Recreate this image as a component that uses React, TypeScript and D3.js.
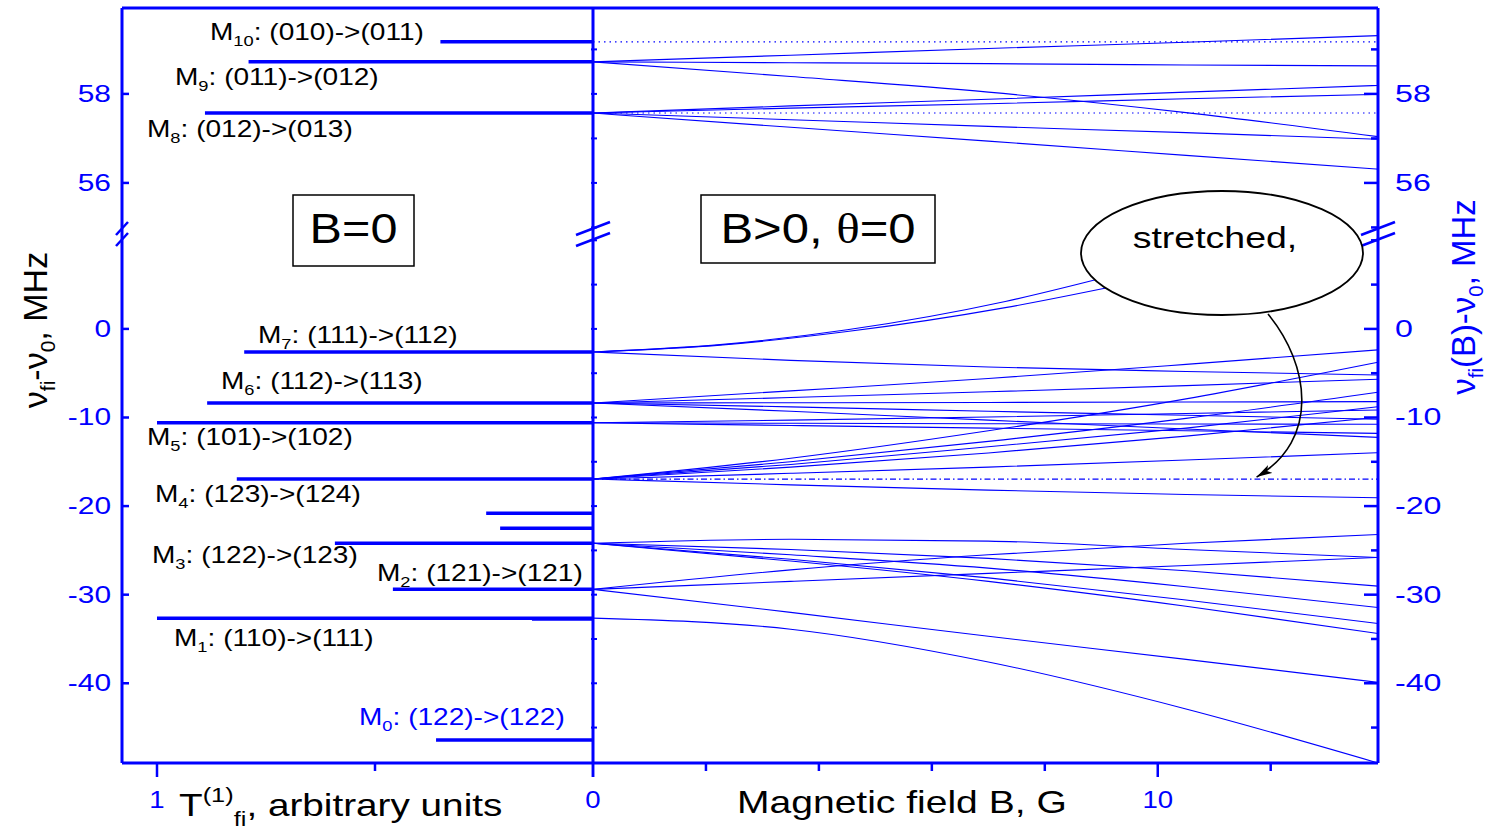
import * as d3 from 'd3';

// ---------- data ----------
const bField = [0, 3.5, 7, 10.5, 13.9];
const bFieldShort = [0, 2.3, 4.5, 7.3, 9.3];

// zero-field transitions (left panel)
const lineNames = ['10', '9', '8', '7', '6', '5', '4', '', '', '3', '2', '1', '', '0'];
const lineCodes = [
  '(010)->(011)', '(011)->(012)', '(012)->(013)', '(111)->(112)', '(112)->(113)',
  '(101)->(102)', '(123)->(124)', '', '', '(122)->(123)', '(121)->(121)', '(110)->(111)', '', '(122)->(122)',
];
const zeroFieldFreq = [59.17, 58.72, 57.57, -2.6, -8.36, -10.6, -16.95, -20.8, -22.5, -24.2, -29.4, -32.65, -32.75, -46.4];
const zeroFieldT = [0.35, 0.79, 0.89, 0.8, 0.885, 1.0, 0.817, 0.245, 0.213, 0.592, 0.459, 1.0, 0.14, 0.36];

// Zeeman branches, upper band, sampled at bField
const upperBranches = [
  [58.72, 58.87, 59.02, 59.16, 59.31],
  [58.72, 58.7, 58.68, 58.65, 58.63],
  [58.72, 58.39, 58.04, 57.58, 57.04],
  [57.57, 57.73, 57.88, 58.04, 58.19],
  [57.57, 57.68, 57.78, 57.89, 57.99],
  [57.57, 57.42, 57.27, 57.13, 56.98],
  [57.57, 57.25, 56.94, 56.62, 56.31],
];

// Zeeman branches, lower band, sampled at bField
const lowerBranches = [
  [-2.6, -3.55, -4.3, -4.8, -5.2],
  [-8.36, -7.0, -5.6, -4.0, -2.37],
  [-8.36, -7.75, -7.1, -6.4, -5.68],
  [-8.36, -8.33, -8.3, -8.25, -8.21],
  [-8.36, -8.8, -9.3, -9.75, -10.2],
  [-8.36, -9.3, -10.3, -11.3, -12.24],
  [-10.6, -10.3, -9.95, -9.55, -9.15],
  [-10.6, -10.65, -10.7, -10.74, -10.77],
  [-10.6, -10.9, -11.2, -11.5, -11.79],
  [-16.95, -14.6, -11.5, -7.9, -3.76],
  [-16.95, -15.0, -12.7, -10.1, -7.15],
  [-16.95, -15.3, -13.3, -11.2, -8.78],
  [-16.95, -15.6, -14.0, -12.1, -9.98],
  [-16.95, -16.3, -15.6, -14.8, -13.98],
  [-16.95, -17.6, -18.2, -18.7, -19.06],
  [-24.2, -23.75, -23.95, -24.9, -25.8],
  [-24.2, -24.9, -25.9, -27.3, -29.04],
  [-24.2, -25.5, -27.0, -29.1, -31.45],
  [-24.2, -26.0, -28.1, -30.6, -33.25],
  [-24.2, -26.2, -28.5, -31.3, -34.38],
  [-29.4, -28.5, -27.6, -26.7, -25.8],
  [-29.4, -27.2, -25.5, -24.2, -23.2],
  [-29.4, -32.0, -34.7, -37.3, -39.9],
  [-32.65, -33.9, -37.6, -42.9, -49.0],
];

// the two M7 branches that run up under the ellipse, sampled at bFieldShort
const curvedBranches = [
  [-2.6, -1.75, -0.1, 3.1, 6.2],
  [-2.6, -1.8, -0.3, 2.4, 4.9],
];

const dottedFreqs = [59.17, 57.57];
const stretchedFreq = -16.95;

const upperTicks = [56, 58];
const upperMinor = [55, 57, 59];
const lowerTicks = [-40, -30, -20, -10, 0];
const lowerMinor = [-45, -35, -25, -15, -5, 5, 10];
const tTicks = [1, 0.5, 0];
const tTickLabels = ['1', '', '0'];
const bTicks = [0, 2, 4, 6, 8, 10, 12];
const bTickLabels = ['', '', '', '', '', '10', ''];

// ---------- layout ----------
const W = 1496;
const H = 830;
const left = 122;
const mid = 593;
const right = 1378;
const top = 8;
const bottom = 763;
const breakY = 235;
const BLUE = '#0000ff';
const FONT = '"Liberation Sans", Arial, sans-serif';

const xT = d3.scaleLinear().domain([1, 0]).range([157, mid]);
const xB = d3.scaleLinear().domain([0, 13.9]).range([mid, right]);
const yUp = d3.scaleLinear().domain([54.83, 59.93]).range([breakY, top]);
const yLo = d3.scaleLinear().domain([-49, 10.6]).range([bottom, breakY]);
const yAny = (v: number) => (v > 30 ? yUp(v) : yLo(v));

// label placement for the zero-field lines (x, baseline offset from bar)
const labelX = [210, 175, 147, 258, 221, 147, 155, 0, 0, 152, 377, 174, 0, 359];
const labelDy = [-1.5, 23, 24, -9, -14, 22, 23, 0, 0, 20, -8, 28, 0, -15];

function branchPath(bs: number[], vs: number[], y: (v: number) => number) {
  const line = d3
    .line<number>()
    .x((_, i) => xB(bs[i]))
    .y((v) => y(v))
    .curve(d3.curveMonotoneX);
  return line(vs) ?? '';
}

function SText({ x, y, size, sx = 1.2, fill = '#000', anchor = 'start', rotate = 0, family = FONT, children }: any) {
  return (
    <text
      transform={`translate(${x},${y}) rotate(${rotate}) scale(${sx},1)`}
      fontSize={size}
      fill={fill}
      textAnchor={anchor}
      fontFamily={family}
    >
      {children}
    </text>
  );
}

function BreakMark({ x, y, w }: { x: number; y: number; w: number }) {
  return (
    <g stroke={BLUE} strokeWidth={2.5}>
      <line x1={x - w} y1={y + 5} x2={x + w} y2={y - 8} />
      <line x1={x - w} y1={y + 16} x2={x + w} y2={y + 3} />
    </g>
  );
}

export default function App() {
  const flat = (v: number) => [v, v];
  const ends = [0, 13.9];

  return (
    <svg
      width={W}
      height={H}
      style={{ position: 'absolute', left: 0, top: 0, background: '#fff', display: 'block' }}
      fontFamily={FONT}
    >
      <defs>
        <clipPath id="clipUp">
          <rect x={mid} y={top} width={right - mid} height={breakY - top} />
        </clipPath>
        <clipPath id="clipLo">
          <rect x={mid} y={breakY} width={right - mid} height={bottom - breakY} />
        </clipPath>
        <marker id="arrowHead" viewBox="0 0 16 9" refX="16" refY="4.5" markerWidth="16" markerHeight="9" orient="auto" markerUnits="userSpaceOnUse">
          <path d="M0,0 L16,4.5 L0,9 L4,4.5 z" fill="#000" />
        </marker>
      </defs>

      {/* B > 0 branches */}
      <g clipPath="url(#clipUp)" fill="none" stroke={BLUE} strokeWidth={1.1}>
        {upperBranches.map((vs, i) => (
          <path key={i} d={branchPath(bField, vs, yUp)} />
        ))}
        {dottedFreqs.map((f) => (
          <path key={f} d={branchPath(ends, flat(f), yUp)} strokeDasharray="1.5 4" />
        ))}
      </g>
      <g clipPath="url(#clipLo)" fill="none" stroke={BLUE} strokeWidth={1.1}>
        {lowerBranches.map((vs, i) => (
          <path key={i} d={branchPath(bField, vs, yLo)} />
        ))}
        {curvedBranches.map((vs, i) => (
          <path key={'c' + i} d={branchPath(bFieldShort, vs, yLo)} />
        ))}
        <path d={branchPath(ends, flat(stretchedFreq), yLo)} strokeDasharray="6 3 1.5 3" strokeWidth={1.3} />
      </g>

      {/* zero-field bars */}
      <g stroke={BLUE} strokeWidth={3.5}>
        {zeroFieldFreq.map((f, i) => (
          <line key={i} x1={xT(zeroFieldT[i])} x2={mid} y1={yAny(f)} y2={yAny(f)} />
        ))}
      </g>

      {/* zero-field labels */}
      {lineNames.map((n, i) =>
        n === '' ? null : (
          <SText key={i} x={labelX[i]} y={yAny(zeroFieldFreq[i]) + labelDy[i]} size={23} sx={1.22} fill={n === '0' ? BLUE : '#000'}>
            <tspan>M</tspan>
            <tspan fontSize={15} dy={6}>{n}</tspan>
            <tspan dy={-6}>{': ' + lineCodes[i]}</tspan>
          </SText>
        )
      )}

      {/* frame and axes */}
      <g stroke={BLUE} strokeWidth={3} fill="none">
        <line x1={left} x2={right} y1={top} y2={top} />
        <line x1={left} x2={right} y1={bottom} y2={bottom} />
        <line x1={left} x2={left} y1={top} y2={bottom} />
        <line x1={mid} x2={mid} y1={top} y2={bottom} />
        <line x1={right} x2={right} y1={top} y2={bottom} />
      </g>

      {/* ticks */}
      <g stroke={BLUE} strokeWidth={2.5}>
        {upperTicks.map((t) => (
          <line key={'lu' + t} x1={left} x2={left + 7} y1={yUp(t)} y2={yUp(t)} />
        ))}
        {lowerTicks.map((t) => (
          <line key={'ll' + t} x1={left} x2={left + 7} y1={yLo(t)} y2={yLo(t)} />
        ))}
        {upperTicks.map((t) => (
          <line key={'ru' + t} x1={right - 14} x2={right} y1={yUp(t)} y2={yUp(t)} />
        ))}
        {lowerTicks.map((t) => (
          <line key={'rl' + t} x1={right - 14} x2={right} y1={yLo(t)} y2={yLo(t)} />
        ))}
        {upperMinor.map((t) => (
          <line key={'rum' + t} x1={right - 7} x2={right} y1={yUp(t)} y2={yUp(t)} />
        ))}
        {lowerMinor.map((t) => (
          <line key={'rlm' + t} x1={right - 7} x2={right} y1={yLo(t)} y2={yLo(t)} />
        ))}
        {[...upperTicks, ...upperMinor].map((t) => (
          <line key={'mu' + t} x1={mid - 2} x2={mid + 4} y1={yUp(t)} y2={yUp(t)} strokeWidth={2} />
        ))}
        {[...lowerTicks, ...lowerMinor].map((t) => (
          <line key={'ml' + t} x1={mid - 2} x2={mid + 4} y1={yLo(t)} y2={yLo(t)} strokeWidth={2} />
        ))}
        {tTicks.map((t, i) => (
          <line key={'t' + t} x1={xT(t)} x2={xT(t)} y1={bottom} y2={bottom + (tTickLabels[i] ? 14 : 8)} />
        ))}
        {bTicks.map((b, i) => (
          <line key={'b' + b} x1={xB(b)} x2={xB(b)} y1={bottom} y2={bottom + (bTickLabels[i] || b === 0 ? 14 : 8)} />
        ))}
      </g>

      {/* break marks */}
      <BreakMark x={left} y={230} w={6} />
      <BreakMark x={mid} y={230} w={17} />
      <BreakMark x={right} y={230} w={17} />

      {/* tick labels */}
      {upperTicks.map((t) => (
        <g key={'tl' + t}>
          <SText x={111} y={yUp(t) + 8} size={23} sx={1.3} fill={BLUE} anchor="end">{String(t)}</SText>
          <SText x={1395} y={yUp(t) + 8} size={23} sx={1.4} fill={BLUE}>{String(t)}</SText>
        </g>
      ))}
      {lowerTicks.map((t) => (
        <g key={'tl' + t}>
          <SText x={111} y={yLo(t) + 8} size={23} sx={1.3} fill={BLUE} anchor="end">{String(t)}</SText>
          <SText x={1395} y={yLo(t) + 8} size={23} sx={1.4} fill={BLUE}>{String(t)}</SText>
        </g>
      ))}
      {tTicks.map((t, i) =>
        tTickLabels[i] ? (
          <SText key={'tt' + t} x={xT(t)} y={808} size={23} sx={1.2} fill={BLUE} anchor="middle">{tTickLabels[i]}</SText>
        ) : null
      )}
      {bTicks.map((b, i) =>
        bTickLabels[i] ? (
          <SText key={'bt' + b} x={xB(b)} y={808} size={23} sx={1.2} fill={BLUE} anchor="middle">{bTickLabels[i]}</SText>
        ) : null
      )}

      {/* axis titles */}
      <SText x={179} y={816} size={32} sx={1.21}>
        <tspan>T</tspan>
        <tspan fontSize={21} dy={-14}>(1)</tspan>
        <tspan fontSize={21} dy={24}>fi</tspan>
        <tspan dy={-10}>, arbitrary units</tspan>
      </SText>
      <SText x={737} y={813} size={32} sx={1.22}>Magnetic field B, G</SText>
      <SText x={47} y={330} size={34} sx={1.0} rotate={-90} anchor="middle">
        <tspan>ν</tspan>
        <tspan fontSize={21} dy={8}>fi</tspan>
        <tspan dy={-8}>-ν</tspan>
        <tspan fontSize={21} dy={8}>0</tspan>
        <tspan dy={-8}>, MHz</tspan>
      </SText>
      <SText x={1475} y={297} size={34} sx={0.97} rotate={-90} anchor="middle" fill={BLUE}>
        <tspan>ν</tspan>
        <tspan fontSize={21} dy={8}>fi</tspan>
        <tspan dy={-8}>(B)-ν</tspan>
        <tspan fontSize={21} dy={8}>0</tspan>
        <tspan dy={-8}>, MHz</tspan>
      </SText>

      {/* boxes */}
      <rect x={293} y={195} width={121} height={71} fill="#fff" stroke="#000" strokeWidth={1.5} />
      <SText x={353.5} y={243} size={43} sx={1.13} anchor="middle">B=0</SText>
      <rect x={701} y={195} width={234} height={68} fill="#fff" stroke="#000" strokeWidth={1.5} />
      <SText x={818} y={243} size={43} sx={1.14} anchor="middle">
        <tspan>B&gt;0, </tspan>
        <tspan fontFamily='"Liberation Serif", "Times New Roman", serif'>θ</tspan>
        <tspan>=0</tspan>
      </SText>

      {/* stretched annotation */}
      <ellipse cx={1222} cy={253} rx={141} ry={62} fill="#fff" stroke="#000" strokeWidth={1.8} />
      <SText x={1215} y={248} size={30} sx={1.25} anchor="middle">stretched,</SText>
      <path
        d={`M1268,314 C1310,365 1320,440 ${xB(11.75)},${yLo(stretchedFreq) - 2}`}
        fill="none"
        stroke="#000"
        strokeWidth={1.6}
        markerEnd="url(#arrowHead)"
      />
    </svg>
  );
}
